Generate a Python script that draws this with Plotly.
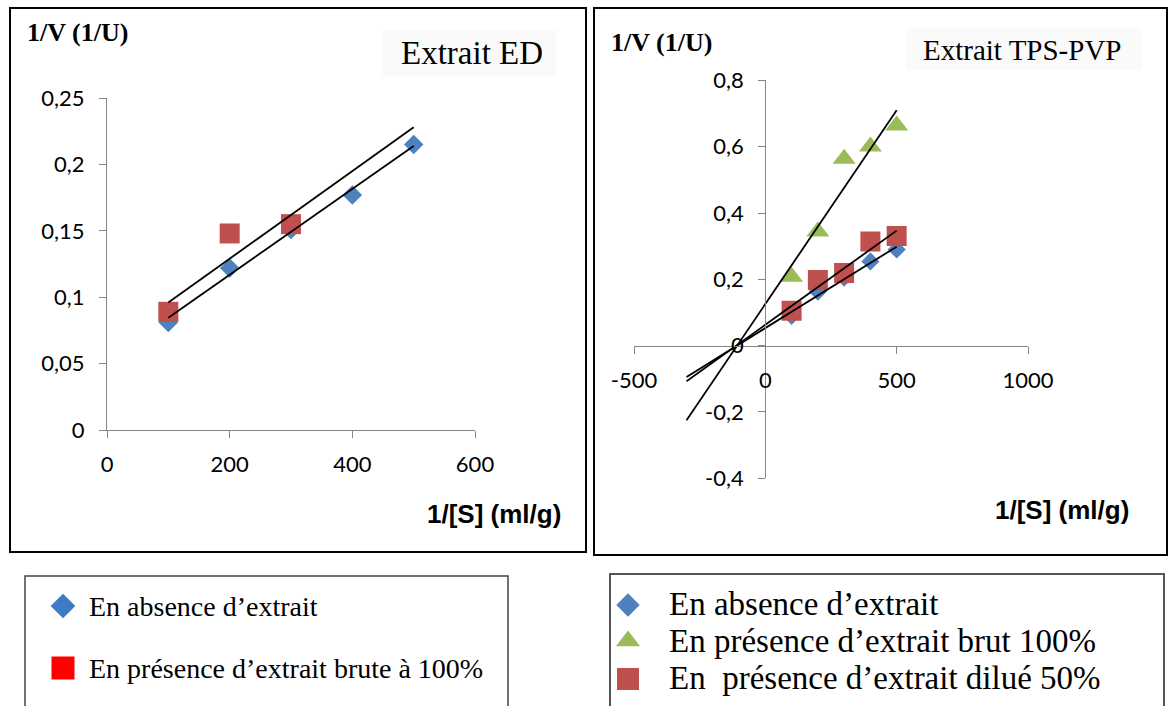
import numpy as np
import plotly.graph_objects as go

W, H = 1169, 706

# ---------------- data ----------------
# Extrait ED
ed_x = [100, 200, 300, 400, 500]
ed_absence = [0.081, 0.122, 0.151, 0.177, 0.215]
ed_brute_x = [100, 200, 300]
ed_brute = [0.089, 0.148, 0.155]
# trendline of the crude-extract series as plotted (slope, intercept)
ed_brute_trend = (0.00033, 0.063)

# Extrait TPS-PVP
tps_x = [100, 200, 300, 400, 500]
tps_absence = [0.090, 0.163, 0.205, 0.254, 0.290]
tps_brut = [0.208, 0.344, 0.564, 0.601, 0.664]
tps_dilue = [0.105, 0.198, 0.219, 0.314, 0.331]

# axis ticks
ed_xticks = [0, 200, 400, 600]
ed_yticks = [0, 0.05, 0.10, 0.15, 0.20, 0.25]
ed_yticktext = ["0", "0,05", "0,1", "0,15", "0,2", "0,25"]
tps_xticks = [-500, 0, 500, 1000]
tps_yticks = [-0.4, -0.2, 0, 0.2, 0.4, 0.6, 0.8]
tps_yticktext = ["-0,4", "-0,2", "0", "0,2", "0,4", "0,6", "0,8"]

BLUE = "#4F81BD"
RED = "#C0504D"
GREEN = "#9BBB59"
AXIS = "#868686"


def px_x(v):
    return v / W


def px_y(v):
    return 1 - v / H


def fit(x, y):
    slope, intercept = np.polyfit(x, y, 1)
    return slope, intercept


def trend_line(coef, x0, x1):
    xs = np.array([x0, x1], dtype=float)
    return xs, coef[0] * xs + coef[1]


fig = go.Figure()

# ---- left panel: Extrait ED ----
fig.add_trace(go.Scatter(x=ed_x, y=ed_absence, mode="markers",
                         marker=dict(symbol="diamond", size=15, color=BLUE),
                         xaxis="x", yaxis="y", showlegend=False))
fig.add_trace(go.Scatter(x=ed_brute_x, y=ed_brute, mode="markers",
                         marker=dict(symbol="square", size=20, color=RED),
                         xaxis="x", yaxis="y", showlegend=False))
for coef in (fit(ed_x, ed_absence), ed_brute_trend):
    lx, ly = trend_line(coef, 100, 500)
    fig.add_trace(go.Scatter(x=lx, y=ly, mode="lines",
                             line=dict(color="black", width=1.8),
                             xaxis="x", yaxis="y", showlegend=False))

# ---- right panel: Extrait TPS-PVP ----
fig.add_trace(go.Scatter(x=tps_x, y=tps_absence, mode="markers",
                         marker=dict(symbol="diamond", size=14, color=BLUE),
                         xaxis="x2", yaxis="y2", showlegend=False))
fig.add_trace(go.Scatter(x=tps_x, y=tps_brut, mode="markers",
                         marker=dict(symbol="triangle-up", size=20, color=GREEN),
                         xaxis="x2", yaxis="y2", showlegend=False))
fig.add_trace(go.Scatter(x=tps_x, y=tps_dilue, mode="markers",
                         marker=dict(symbol="square", size=20, color=RED),
                         xaxis="x2", yaxis="y2", showlegend=False))
for ys in (tps_absence, tps_brut, tps_dilue):
    lx, ly = trend_line(fit(tps_x, ys), -300, 500)
    fig.add_trace(go.Scatter(x=lx, y=ly, mode="lines",
                             line=dict(color="black", width=1.8),
                             xaxis="x2", yaxis="y2", showlegend=False))

# ---- legend keys, drawn on a pixel-space overlay axis ----
legend_keys = [
    (63, 606, "diamond", 19, "#3F7BC4"),
    (63, 668, "square", 23, "#FF0000"),
    (628, 605, "diamond", 18, BLUE),
    (628, 641, "triangle-up", 21, GREEN),
    (628, 679, "square", 22, RED),
]
for kx, ky, sym, sz, col in legend_keys:
    fig.add_trace(go.Scatter(x=[kx], y=[ky], mode="markers",
                             marker=dict(symbol=sym, size=sz, color=col),
                             xaxis="x3", yaxis="y3", showlegend=False,
                             hoverinfo="skip"))

tickfont = dict(family="Lato, Open Sans, sans-serif", size=22, color="black")
axis_common = dict(showline=True, linecolor=AXIS, linewidth=1.3,
                   ticks="outside", ticklen=7, tickcolor=AXIS, tickwidth=1.3,
                   showgrid=False, zeroline=False, tickfont=tickfont,
                   fixedrange=True, automargin=False)

# right panel domains and zero-crossing positions
x2_dom = [px_x(634), px_x(1028)]
y2_dom = [px_y(478.3), px_y(80.4)]
x2_range = [-500, 1000]
y2_range = [-0.4, 0.8]
y_zero_pos = y2_dom[0] + (0 - y2_range[0]) / (y2_range[1] - y2_range[0]) * (y2_dom[1] - y2_dom[0])
x_zero_pos = x2_dom[0] + (0 - x2_range[0]) / (x2_range[1] - x2_range[0]) * (x2_dom[1] - x2_dom[0])

fig.update_layout(
    width=W, height=H,
    margin=dict(l=0, r=0, t=0, b=0, pad=0, autoexpand=False),
    paper_bgcolor="white", plot_bgcolor="rgba(0,0,0,0)",
    showlegend=False,
    xaxis=dict(domain=[px_x(107), px_x(475)], range=[0, 600],
               tickvals=ed_xticks, ticktext=[str(v) for v in ed_xticks],
               anchor="y", ticklabelstandoff=7, **axis_common),
    yaxis=dict(domain=[px_y(430), px_y(98)], range=[0, 0.25],
               tickvals=ed_yticks, ticktext=ed_yticktext,
               anchor="x", ticklabelstandoff=10, **axis_common),
    xaxis2=dict(domain=x2_dom, range=x2_range,
                tickvals=tps_xticks, ticktext=[str(v) for v in tps_xticks],
                anchor="free", position=y_zero_pos, ticklabelstandoff=8,
                **axis_common),
    yaxis2=dict(domain=y2_dom, range=y2_range,
                tickvals=tps_yticks, ticktext=tps_yticktext,
                anchor="free", position=x_zero_pos, ticklabelstandoff=10,
                **axis_common),
    xaxis3=dict(domain=[0, 1], range=[0, W], visible=False, fixedrange=True,
                automargin=False, anchor="y3"),
    yaxis3=dict(domain=[0, 1], range=[H, 0], visible=False, fixedrange=True,
                automargin=False, anchor="x3"),
)

# ---- frames, title backgrounds and legend boxes (pixel space) ----
shapes = [
    dict(type="rect", x0=10, y0=8, x1=586, y1=552, line=dict(color="black", width=2)),
    dict(type="rect", x0=594, y0=8, x1=1167, y1=555, line=dict(color="black", width=2)),
    dict(type="rect", x0=382, y0=30, x1=556, y1=76, line=dict(width=0),
         fillcolor="#fafafa", layer="below"),
    dict(type="rect", x0=906, y0=28, x1=1142, y1=70, line=dict(width=0),
         fillcolor="#fafafa", layer="below"),
    dict(type="rect", x0=25, y0=576, x1=508, y1=720, line=dict(color="#444", width=1.5)),
    dict(type="rect", x0=610, y0=574, x1=1164, y1=720, line=dict(color="#555", width=2)),
]
for s in shapes:
    s.update(xref="x3", yref="y3")
fig.update_layout(shapes=shapes)

serif = "Liberation Serif"
sans = "Liberation Sans"
annotations = [
    dict(x=77, y=32, text="<b>1/V (1/U)</b>", font=dict(family=serif, size=26)),
    dict(x=661, y=42, text="<b>1/V (1/U)</b>", font=dict(family=serif, size=26)),
    dict(x=494, y=514, text="<b>1/[S] (ml/g)</b>", font=dict(family=sans, size=26)),
    dict(x=1062, y=510, text="<b>1/[S] (ml/g)</b>", font=dict(family=sans, size=26)),
    dict(x=472, y=53, text="Extrait ED", font=dict(family=serif, size=33)),
    dict(x=1022, y=50, text="Extrait TPS-PVP", font=dict(family=serif, size=29)),
    dict(x=87, y=606, text="En absence d’extrait", xanchor="left",
         font=dict(family=serif, size=28)),
    dict(x=87, y=668, text="En présence d’extrait brute à 100%", xanchor="left",
         font=dict(family=serif, size=28)),
    dict(x=667, y=604, text="En absence d’extrait", xanchor="left",
         font=dict(family=serif, size=33)),
    dict(x=667, y=641, text="En présence d’extrait brut 100%", xanchor="left",
         font=dict(family=serif, size=33)),
    dict(x=667, y=678, text="En\u00a0 présence d’extrait dilué 50%", xanchor="left",
         font=dict(family=serif, size=33)),
]
for a in annotations:
    a.setdefault("xanchor", "center")
    a.update(xref="x3", yref="y3", yanchor="middle", showarrow=False)
    a["font"]["color"] = "black"
fig.update_layout(annotations=annotations)

fig.write_html("out.html")
